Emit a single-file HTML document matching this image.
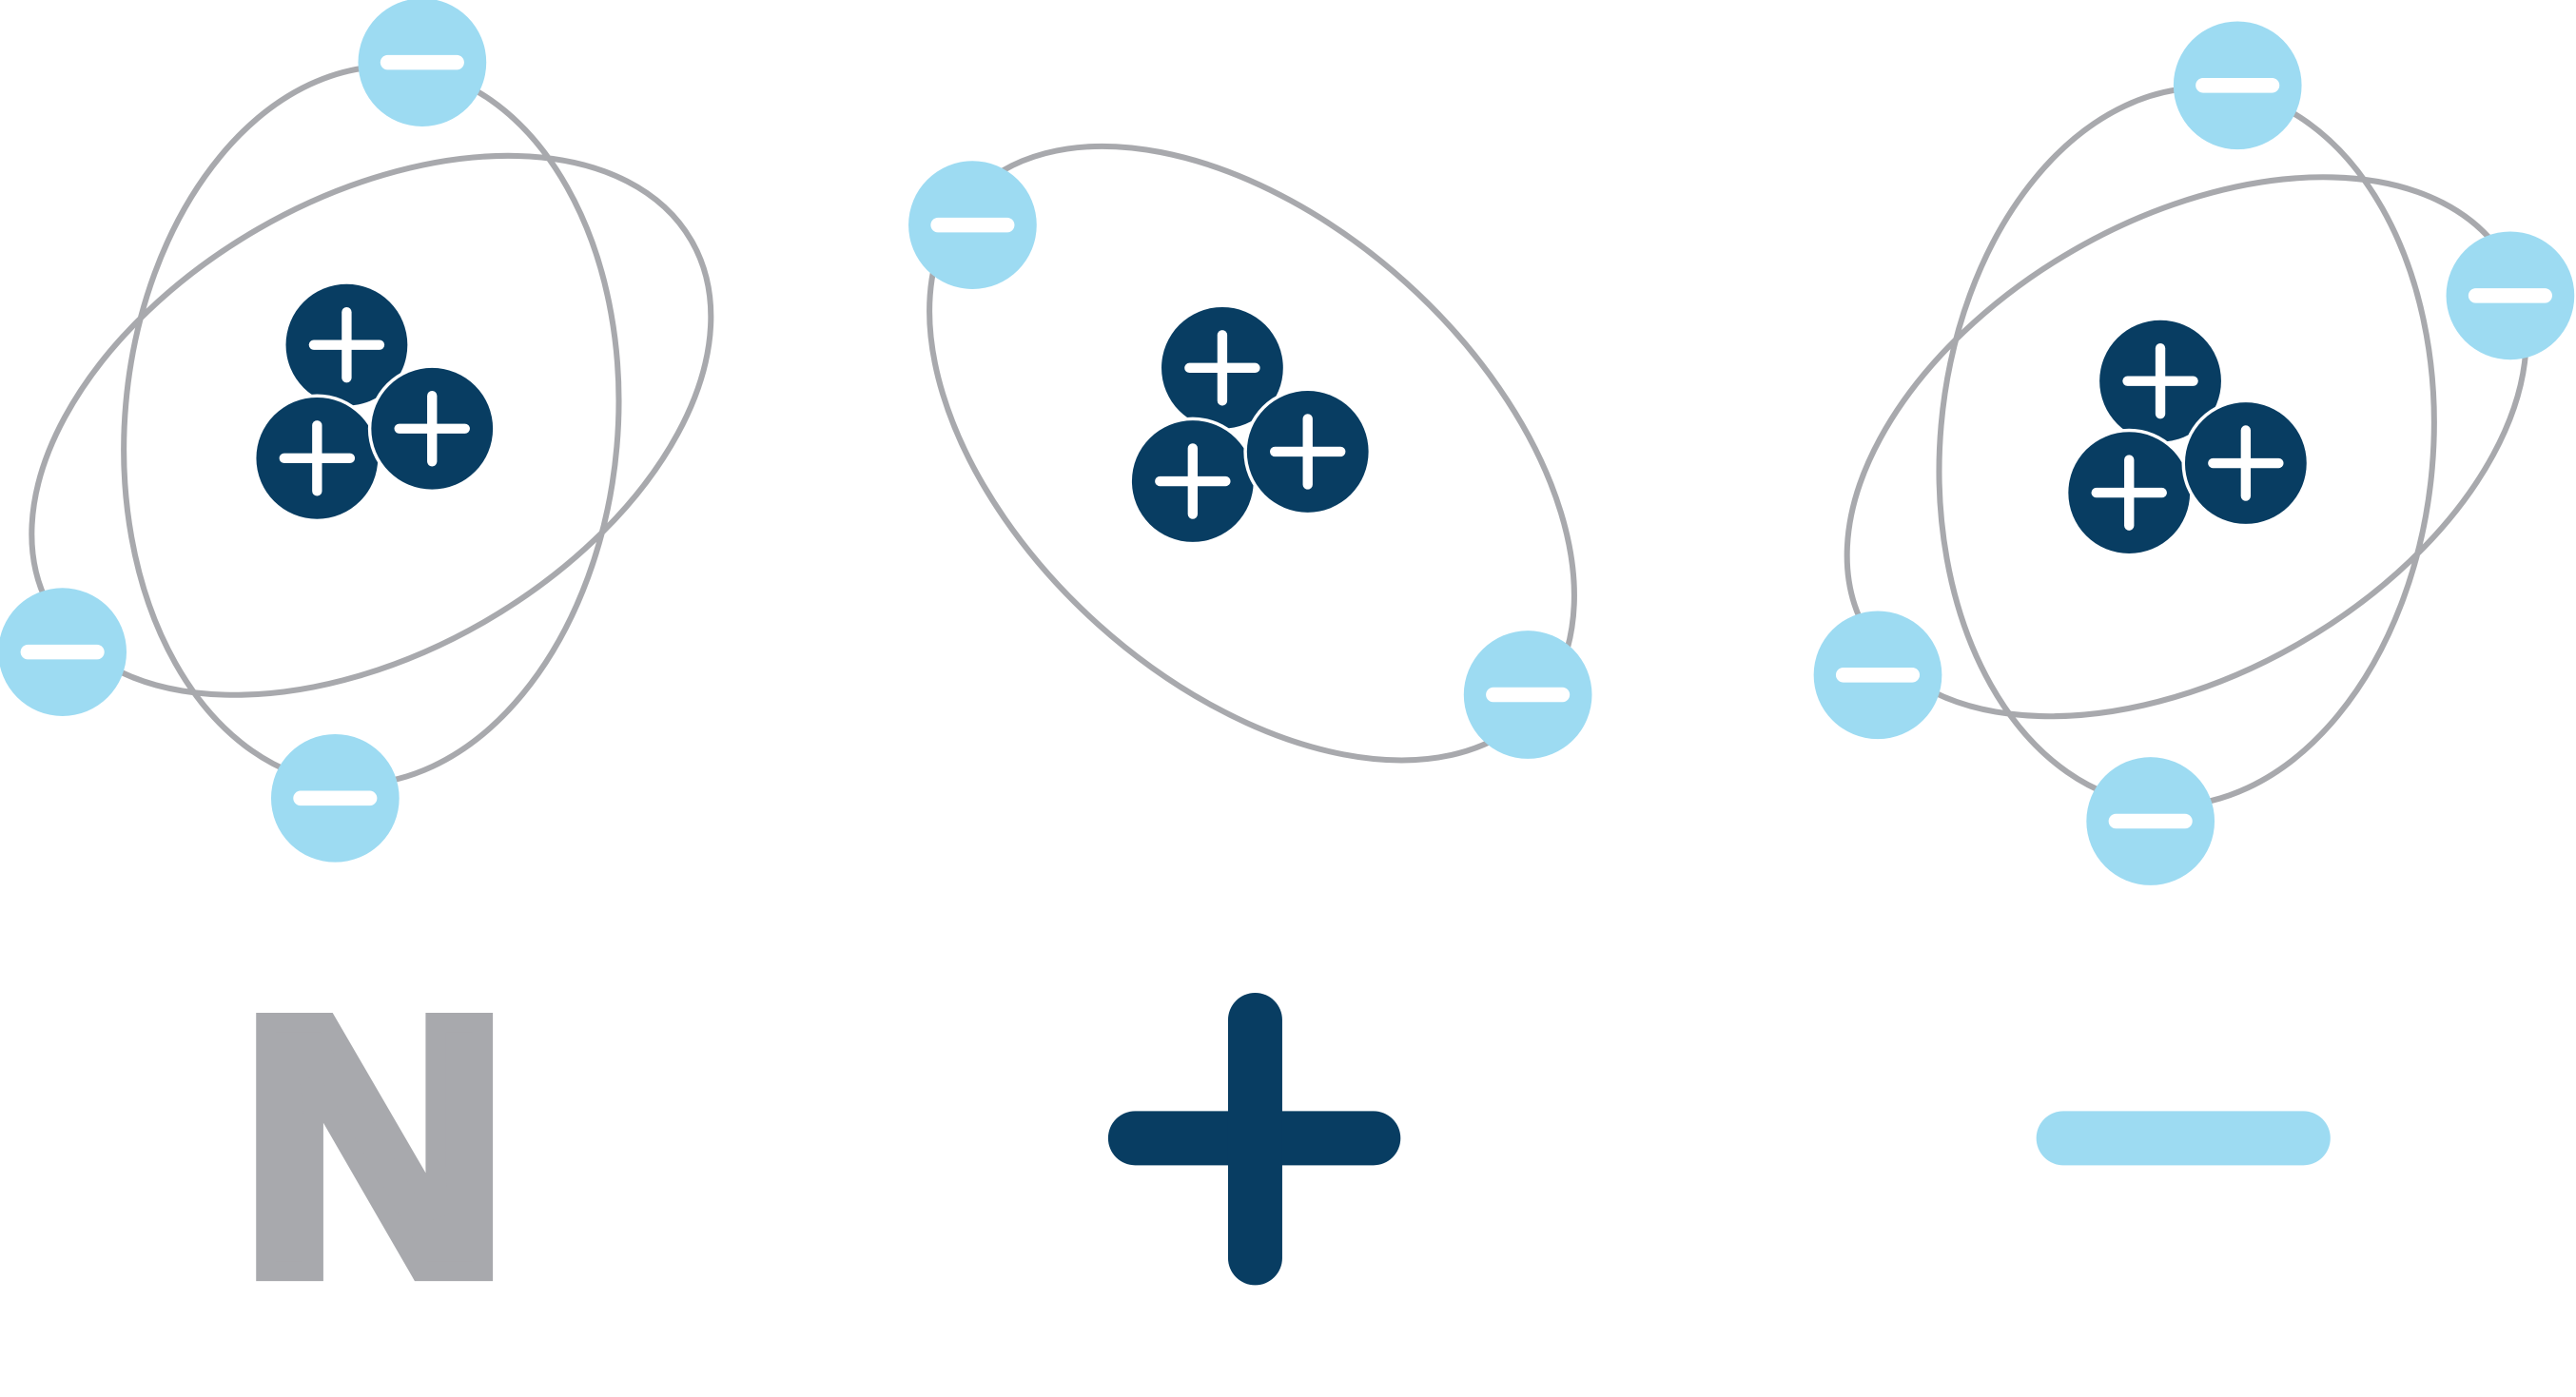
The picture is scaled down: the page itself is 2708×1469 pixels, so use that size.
<!DOCTYPE html>
<html><head><style>html,body{margin:0;padding:0;background:#fff}svg{display:block}</style></head>
<body>
<svg width="2708" height="1469" viewBox="0 0 1568 850.6" xmlns="http://www.w3.org/2000/svg">
<defs>
<g id="e"><circle r="39" fill="#9ddbf2"/><line x1="-21" y1="0" x2="21" y2="0" stroke="#fff" stroke-width="9" stroke-linecap="round"/></g>
<g id="p"><circle r="39" fill="#fff"/><circle r="37" fill="#083d62"/><line x1="-20" y1="0" x2="20" y2="0" stroke="#fff" stroke-width="6" stroke-linecap="round"/><line x1="0" y1="-20" x2="0" y2="20" stroke="#fff" stroke-width="6" stroke-linecap="round"/></g>
<g id="atom3e" fill="none" stroke="#a8a9ad" stroke-width="3.5">
<ellipse cx="0" cy="0" rx="150" ry="219" transform="rotate(5)"/>
<ellipse cx="0" cy="0" rx="225" ry="138" transform="rotate(-30)"/>
</g>
</defs>
<use href="#atom3e" transform="translate(226,259)"/>
<use href="#p" x="211" y="210"/>
<use href="#p" x="193" y="279"/>
<use href="#p" x="263" y="261"/>
<use href="#e" x="257" y="38"/>
<use href="#e" x="38" y="397"/>
<use href="#e" x="204" y="486"/>
<ellipse cx="762" cy="276" rx="232" ry="140" transform="rotate(42 762 276)" fill="none" stroke="#a8a9ad" stroke-width="3.5"/>
<use href="#p" x="744" y="224"/>
<use href="#p" x="726" y="293"/>
<use href="#p" x="796" y="275"/>
<use href="#e" x="592" y="137"/>
<use href="#e" x="930" y="423"/>
<use href="#atom3e" transform="translate(1331,272)"/>
<use href="#p" x="1315" y="232"/>
<use href="#p" x="1296" y="300"/>
<use href="#p" x="1367" y="282"/>
<use href="#e" x="1362" y="52"/>
<use href="#e" x="1528" y="180"/>
<use href="#e" x="1143" y="411"/>
<use href="#e" x="1309" y="500"/>
<text x="147" y="774" font-family="Liberation Sans, sans-serif" font-weight="bold" font-size="220" fill="#a8a9ad" stroke="#a8a9ad" stroke-width="12" stroke-linejoin="miter" textLength="162" lengthAdjust="spacingAndGlyphs">N</text>
<g stroke="#083d62" stroke-width="33" stroke-linecap="round">
<line x1="691" y1="693" x2="836" y2="693"/><line x1="764" y1="621" x2="764" y2="766"/>
</g>
<line x1="1256" y1="693" x2="1402" y2="693" stroke="#9ddbf2" stroke-width="33" stroke-linecap="round"/>
</svg>
</body></html>
